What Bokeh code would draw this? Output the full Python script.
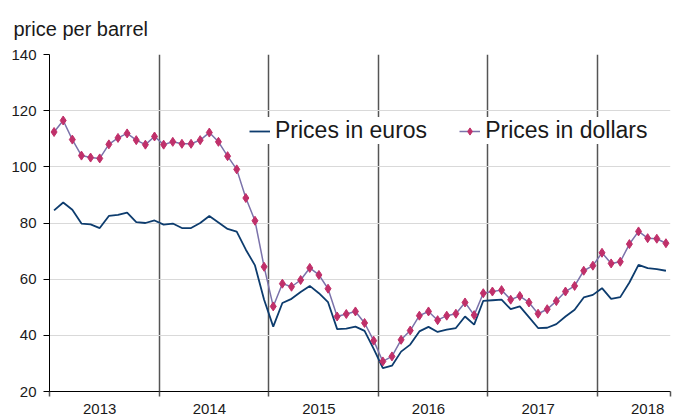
from bokeh.plotting import figure
from bokeh.models import Range1d, FixedTicker, Legend, LegendItem, ColumnDataSource
from bokeh.embed import file_html
from bokeh.resources import INLINE

years = ["2013", "2014", "2015", "2016", "2017", "2018"]
months_per_year = [12, 12, 12, 12, 12, 8]

dollars = [112.4, 116.5, 109.7, 104.0, 103.3, 103.0, 108.0, 110.3, 111.9, 109.5, 107.9, 110.8,
           107.9, 108.9, 108.2, 108.2, 109.5, 112.2, 108.9, 103.8, 99.1, 88.9, 80.8, 64.4,
           50.3, 58.4, 57.3, 59.7, 64.0, 61.5, 56.6, 46.7, 47.6, 48.5, 44.4, 38.1,
           30.7, 32.5, 38.4, 41.7, 47.0, 48.5, 45.4, 47.0, 47.7, 51.7, 47.2, 55.0,
           55.6, 56.1, 52.7, 54.0, 51.7, 47.7, 49.3, 52.2, 55.6, 57.6, 63.0, 64.8,
           69.4, 65.6, 66.2, 72.5, 77.0, 74.6, 74.4, 72.8]

euros = [84.5, 87.3, 84.7, 79.8, 79.5, 78.2, 82.5, 82.9, 83.7, 80.3, 80.0, 80.9,
         79.4, 79.8, 78.2, 78.2, 80.0, 82.5, 80.2, 77.9, 76.9, 70.5, 64.9, 52.7,
         43.1, 51.5, 53.0, 55.4, 57.6, 55.0, 51.8, 42.2, 42.4, 43.1, 41.6, 35.2,
         28.3, 29.2, 34.2, 36.7, 41.4, 43.0, 41.2, 42.0, 42.6, 46.7, 43.8, 52.3,
         52.5, 52.7, 49.3, 50.3, 46.5, 42.6, 42.7, 44.0, 46.7, 49.1, 53.5, 54.4,
         56.8, 53.0, 53.6, 58.8, 65.1, 63.9, 63.6, 63.0]

y_ticks = [20, 40, 60, 80, 100, 120, 140]

n = len(dollars)
x = [i + 0.5 for i in range(n)]
starts = [sum(months_per_year[:k]) for k in range(len(years))]
label_pos = [s + 5.5 for s in starts]

src = ColumnDataSource(dict(x=x, usd=dollars, eur=euros))

p = figure(width=675, height=416, output_backend="svg", toolbar_location=None,
           x_range=Range1d(0, n), y_range=Range1d(20, 140),
           min_border_left=49, min_border_right=5, min_border_top=54, min_border_bottom=10)
p.outline_line_color = None

p.title.text = "price per barrel"
p.title.text_font = "Liberation Sans"
p.title.text_font_size = "20px"
p.title.text_font_style = "normal"
p.title.text_color = "#1a1a1a"
p.title.align = "left"
p.title.offset = -36
p.title.standoff = 29

# y axis
p.yaxis.ticker = FixedTicker(ticks=y_ticks)
p.yaxis.major_tick_out = 6
p.yaxis.major_tick_in = 0
p.yaxis.minor_tick_line_color = None
p.yaxis.major_label_text_font = "Liberation Sans"
p.yaxis.major_label_text_font_size = "15px"
p.yaxis.major_label_text_color = "#1a1a1a"
p.yaxis.major_label_standoff = 7
p.yaxis.axis_line_color = "black"
p.yaxis.major_tick_line_color = "black"

# x axis
p.xaxis.ticker = FixedTicker(ticks=label_pos, minor_ticks=starts + [n])
p.xaxis.major_label_overrides = {lp: y for lp, y in zip(label_pos, years)}
p.xaxis.major_tick_line_color = None
p.xaxis.major_tick_out = 0
p.xaxis.major_tick_in = 0
p.xaxis.minor_tick_out = 5
p.xaxis.minor_tick_in = 0
p.xaxis.minor_tick_line_color = "#555555"
p.xaxis.minor_tick_line_width = 1.5
p.xaxis.major_label_text_font = "Liberation Sans"
p.xaxis.major_label_text_font_size = "15px"
p.xaxis.major_label_text_color = "#1a1a1a"
p.xaxis.major_label_standoff = 7
p.xaxis.axis_line_color = "black"

# grids
p.ygrid.ticker = FixedTicker(ticks=y_ticks[1:])
p.ygrid.grid_line_color = "#d9d9d9"
p.ygrid.grid_line_width = 1
p.xgrid.ticker = FixedTicker(ticks=starts[1:])
p.xgrid.grid_line_color = "#555555"
p.xgrid.grid_line_width = 1.5

eur_line = p.line("x", "eur", source=src, line_color="#0d3c6e", line_width=1.8)
usd_line = p.line("x", "usd", source=src, line_color="#7b72aa", line_width=1.5)
usd_pts = p.scatter("x", "usd", source=src, marker="diamond", size=9,
                    fill_color="#c0306a", line_color="#c0306a", line_width=1)

legend = Legend(items=[LegendItem(label="Prices in euros", renderers=[eur_line]),
                       LegendItem(label="Prices in dollars", renderers=[usd_line, usd_pts])],
                location=(200, 247), orientation="horizontal",
                padding=5, spacing=32, margin=0, label_standoff=5,
                glyph_width=21, glyph_height=18,
                label_text_font="Liberation Sans", label_text_font_size="23px",
                label_text_color="#1a1a1a",
                border_line_color=None, background_fill_color="white", background_fill_alpha=1)
p.add_layout(legend, "center")

open("out.html", "w").write(file_html(p, INLINE))
